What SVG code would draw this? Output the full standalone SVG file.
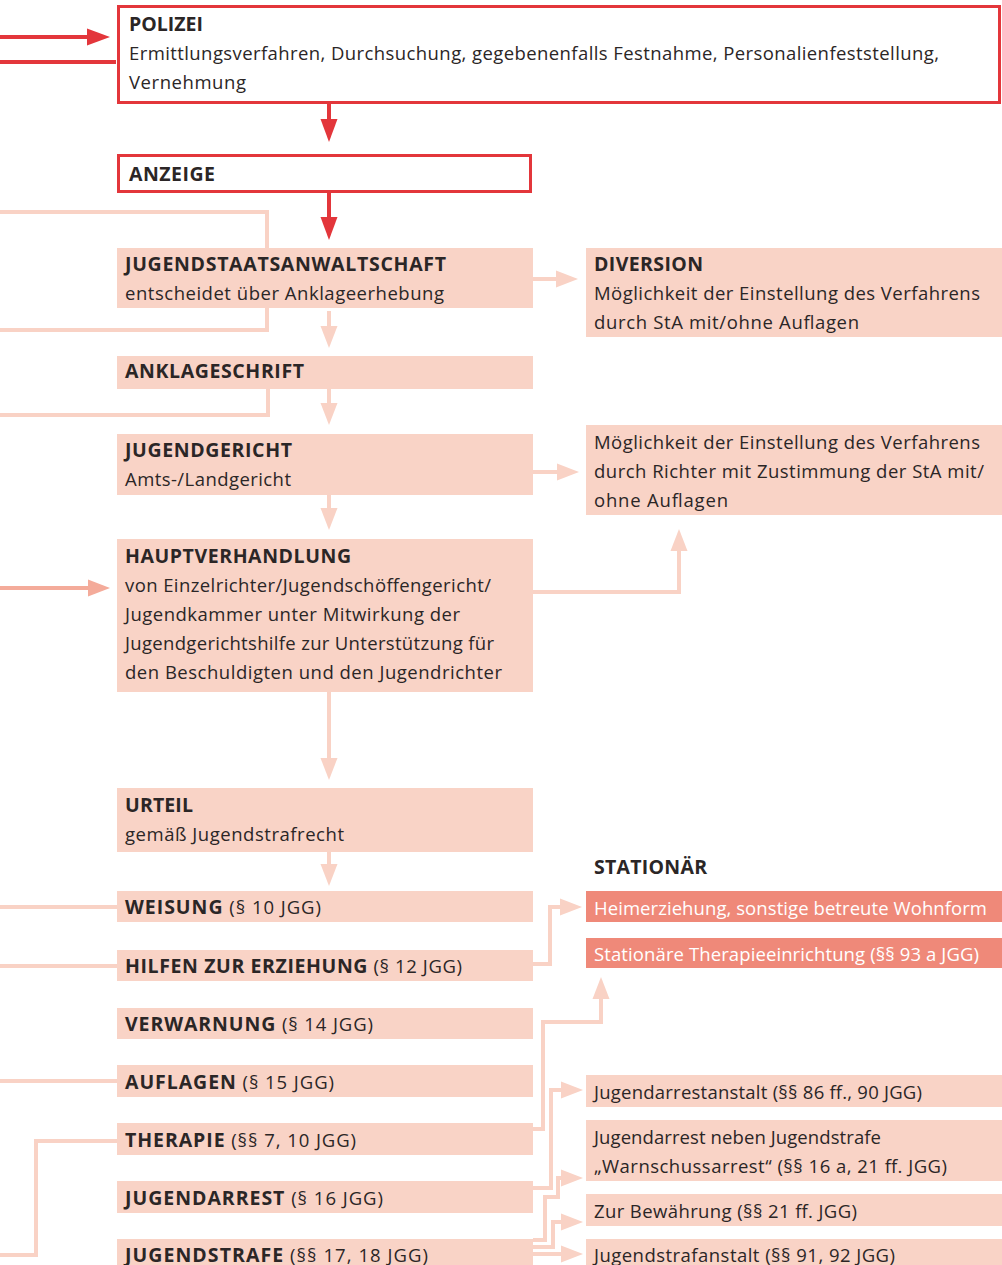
<svg xmlns="http://www.w3.org/2000/svg" width="1002" height="1265" viewBox="0 0 1002 1265">
<defs>
<style>
text{font-family:"Open Sans","Noto Sans","Liberation Sans",sans-serif;font-size:18.5px;fill:#2b2626}
.b{font-weight:700;font-size:19.5px}
.w{fill:#ffffff}
.redbox{fill:#ffffff;stroke:#e3363b;stroke-width:3}
.pale{fill:#f9d3c6}
.salmon{fill:#ef8979}
.rl{fill:none;stroke:#e3363b;stroke-width:4}
.pl{fill:none;stroke:#f9d2c5;stroke-width:4}
.pd{fill:none;stroke:#f4ab9a;stroke-width:4}
</style>
<marker id="ar" markerUnits="userSpaceOnUse" markerWidth="24" markerHeight="18" refX="0" refY="9" orient="auto" overflow="visible"><path d="M0,0.5 L23,9 L0,17.5z" fill="#e3363b"/></marker>
<marker id="ap" markerUnits="userSpaceOnUse" markerWidth="22" markerHeight="18" refX="0" refY="9" orient="auto" overflow="visible"><path d="M0,0.5 L22,9 L0,17.5z" fill="#f9d2c5"/></marker>
<marker id="ad" markerUnits="userSpaceOnUse" markerWidth="22" markerHeight="18" refX="0" refY="9" orient="auto" overflow="visible"><path d="M0,0.5 L22,9 L0,17.5z" fill="#f4ab9a"/></marker>
</defs>
<rect width="1002" height="1265" fill="#ffffff"/>

<g id="connectors">
<path class="rl" d="M0,37 H87" marker-end="url(#ar)"/>
<path class="rl" d="M0,62 H116"/>
<path class="rl" d="M329,104 V119" marker-end="url(#ar)"/>
<path class="rl" d="M329,192 V217" marker-end="url(#ar)"/>
<path class="pl" d="M0,212 H267 V248"/>
<path class="pl" d="M267,308 V330 H0"/>
<path class="pl" d="M268,389 V415 H0"/>
<path class="pd" d="M0,588 H88" marker-end="url(#ad)"/>
<path class="pl" d="M0,907 H117"/>
<path class="pl" d="M0,966 H117"/>
<path class="pl" d="M0,1081 H117"/>
<path class="pl" d="M117,1141 H36 V1255 H0"/>
<path class="pl" d="M329,311 V326" marker-end="url(#ap)"/>
<path class="pl" d="M329,389 V403" marker-end="url(#ap)"/>
<path class="pl" d="M329,495 V508" marker-end="url(#ap)"/>
<path class="pl" d="M329,692 V758" marker-end="url(#ap)"/>
<path class="pl" d="M329,852 V864" marker-end="url(#ap)"/>
<path class="pl" d="M533,279 H556" marker-end="url(#ap)"/>
<path class="pl" d="M533,472 H557" marker-end="url(#ap)"/>
<path class="pl" d="M533,592 H679 V551" marker-end="url(#ap)"/>
<path class="pl" d="M533,964 H550 V907 H560" marker-end="url(#ap)"/>
<path class="pl" d="M533,1129 H543 V1022 H601 V999" marker-end="url(#ap)"/>
<path class="pl" d="M533,1188 H551 V1090 H561" marker-end="url(#ap)"/>
<path class="pl" d="M533,1240 H545 V1197 H558 V1178 H561" marker-end="url(#ap)"/>
<path class="pl" d="M533,1247 H553 V1222 H561" marker-end="url(#ap)"/>
<path class="pl" d="M533,1254 H561" marker-end="url(#ap)"/>
</g>

<g id="polizei">
<rect class="redbox" x="118.5" y="6.5" width="881" height="96"/>
<text class="b" x="129" y="31" textLength="74">POLIZEI</text>
<text x="129" y="60" textLength="810">Ermittlungsverfahren, Durchsuchung, gegebenenfalls Festnahme, Personalienfeststellung,</text>
<text x="129" y="89" textLength="117">Vernehmung</text>
</g>

<g id="anzeige">
<rect class="redbox" x="118.5" y="155.5" width="412" height="36"/>
<text class="b" x="129" y="181" textLength="86">ANZEIGE</text>
</g>

<g id="jugendstaatsanwaltschaft">
<rect class="pale" x="117" y="248" width="416" height="60"/>
<text class="b" x="125" y="271" textLength="321">JUGENDSTAATSANWALTSCHAFT</text>
<text x="125" y="300" textLength="319">entscheidet über Anklageerhebung</text>
</g>

<g id="diversion">
<rect class="pale" x="586" y="248" width="416" height="89"/>
<text class="b" x="594" y="271" textLength="109">DIVERSION</text>
<text x="594" y="300" textLength="386">Möglichkeit der Einstellung des Verfahrens</text>
<text x="594" y="329" textLength="265">durch StA mit/ohne Auflagen</text>
</g>

<g id="anklageschrift">
<rect class="pale" x="117" y="356" width="416" height="33"/>
<text class="b" x="125" y="378" textLength="179">ANKLAGESCHRIFT</text>
</g>

<g id="jugendgericht">
<rect class="pale" x="117" y="434" width="416" height="61"/>
<text class="b" x="125" y="457" textLength="167">JUGENDGERICHT</text>
<text x="125" y="486" textLength="166">Amts-/Landgericht</text>
</g>

<g id="einstellung-richter">
<rect class="pale" x="586" y="425" width="416" height="90"/>
<text x="594" y="449" textLength="386">Möglichkeit der Einstellung des Verfahrens</text>
<text x="594" y="478" textLength="390">durch Richter mit Zustimmung der StA mit/</text>
<text x="594" y="507" textLength="134">ohne Auflagen</text>
</g>

<g id="hauptverhandlung">
<rect class="pale" x="117" y="539" width="416" height="153"/>
<text class="b" x="125" y="563" textLength="226">HAUPTVERHANDLUNG</text>
<text x="125" y="592" textLength="366">von Einzelrichter/Jugendschöffengericht/</text>
<text x="125" y="621" textLength="335">Jugendkammer unter Mitwirkung der</text>
<text x="125" y="650" textLength="369">Jugendgerichtshilfe zur Unterstützung für</text>
<text x="125" y="679" textLength="377">den Beschuldigten und den Jugendrichter</text>
</g>

<g id="urteil">
<rect class="pale" x="117" y="788" width="416" height="64"/>
<text class="b" x="125" y="812" textLength="68">URTEIL</text>
<text x="125" y="841" textLength="219">gemäß Jugendstrafrecht</text>
</g>

<g id="stationaer-heading">
<text class="b" x="594" y="874" textLength="113">STATIONÄR</text>
</g>

<g id="weisung">
<rect class="pale" x="117" y="891" width="416" height="31"/>
<text x="125" y="914" textLength="196"><tspan class="b">WEISUNG</tspan> (§ 10 JGG)</text>
</g>

<g id="hilfen">
<rect class="pale" x="117" y="950" width="416" height="31"/>
<text x="125" y="973" textLength="337"><tspan class="b">HILFEN ZUR ERZIEHUNG</tspan> (§ 12 JGG)</text>
</g>

<g id="verwarnung">
<rect class="pale" x="117" y="1008" width="416" height="31"/>
<text x="125" y="1031" textLength="248"><tspan class="b">VERWARNUNG</tspan> (§ 14 JGG)</text>
</g>

<g id="auflagen">
<rect class="pale" x="117" y="1065" width="416" height="32"/>
<text x="125" y="1089" textLength="209"><tspan class="b">AUFLAGEN</tspan> (§ 15 JGG)</text>
</g>

<g id="therapie">
<rect class="pale" x="117" y="1123" width="416" height="32"/>
<text x="125" y="1147" textLength="231"><tspan class="b">THERAPIE</tspan> (§§ 7, 10 JGG)</text>
</g>

<g id="jugendarrest">
<rect class="pale" x="117" y="1181" width="416" height="32"/>
<text x="125" y="1205" textLength="258"><tspan class="b">JUGENDARREST</tspan> (§ 16 JGG)</text>
</g>

<g id="jugendstrafe">
<rect class="pale" x="117" y="1239" width="416" height="32"/>
<text x="125" y="1262" textLength="303"><tspan class="b">JUGENDSTRAFE</tspan> (§§ 17, 18 JGG)</text>
</g>

<g id="heimerziehung">
<rect class="salmon" x="586" y="891" width="416" height="31"/>
<text class="w" x="594" y="915" textLength="393">Heimerziehung, sonstige betreute Wohnform</text>
</g>

<g id="therapieeinrichtung">
<rect class="salmon" x="586" y="938" width="416" height="30"/>
<text class="w" x="594" y="961" textLength="385">Stationäre Therapieeinrichtung (§§ 93 a JGG)</text>
</g>

<g id="jugendarrestanstalt">
<rect class="pale" x="586" y="1075" width="416" height="32"/>
<text x="594" y="1099" textLength="328">Jugendarrestanstalt (§§ 86 ff., 90 JGG)</text>
</g>

<g id="warnschussarrest">
<rect class="pale" x="586" y="1120" width="416" height="61"/>
<text x="594" y="1144" textLength="287">Jugendarrest neben Jugendstrafe</text>
<text x="594" y="1173" textLength="353">„Warnschussarrest“ (§§ 16 a, 21 ff. JGG)</text>
</g>

<g id="bewaehrung">
<rect class="pale" x="586" y="1194" width="416" height="32"/>
<text x="594" y="1218" textLength="263">Zur Bewährung (§§ 21 ff. JGG)</text>
</g>

<g id="jugendstrafanstalt">
<rect class="pale" x="586" y="1239" width="416" height="32"/>
<text x="594" y="1262" textLength="301">Jugendstrafanstalt (§§ 91, 92 JGG)</text>
</g>
</svg>
